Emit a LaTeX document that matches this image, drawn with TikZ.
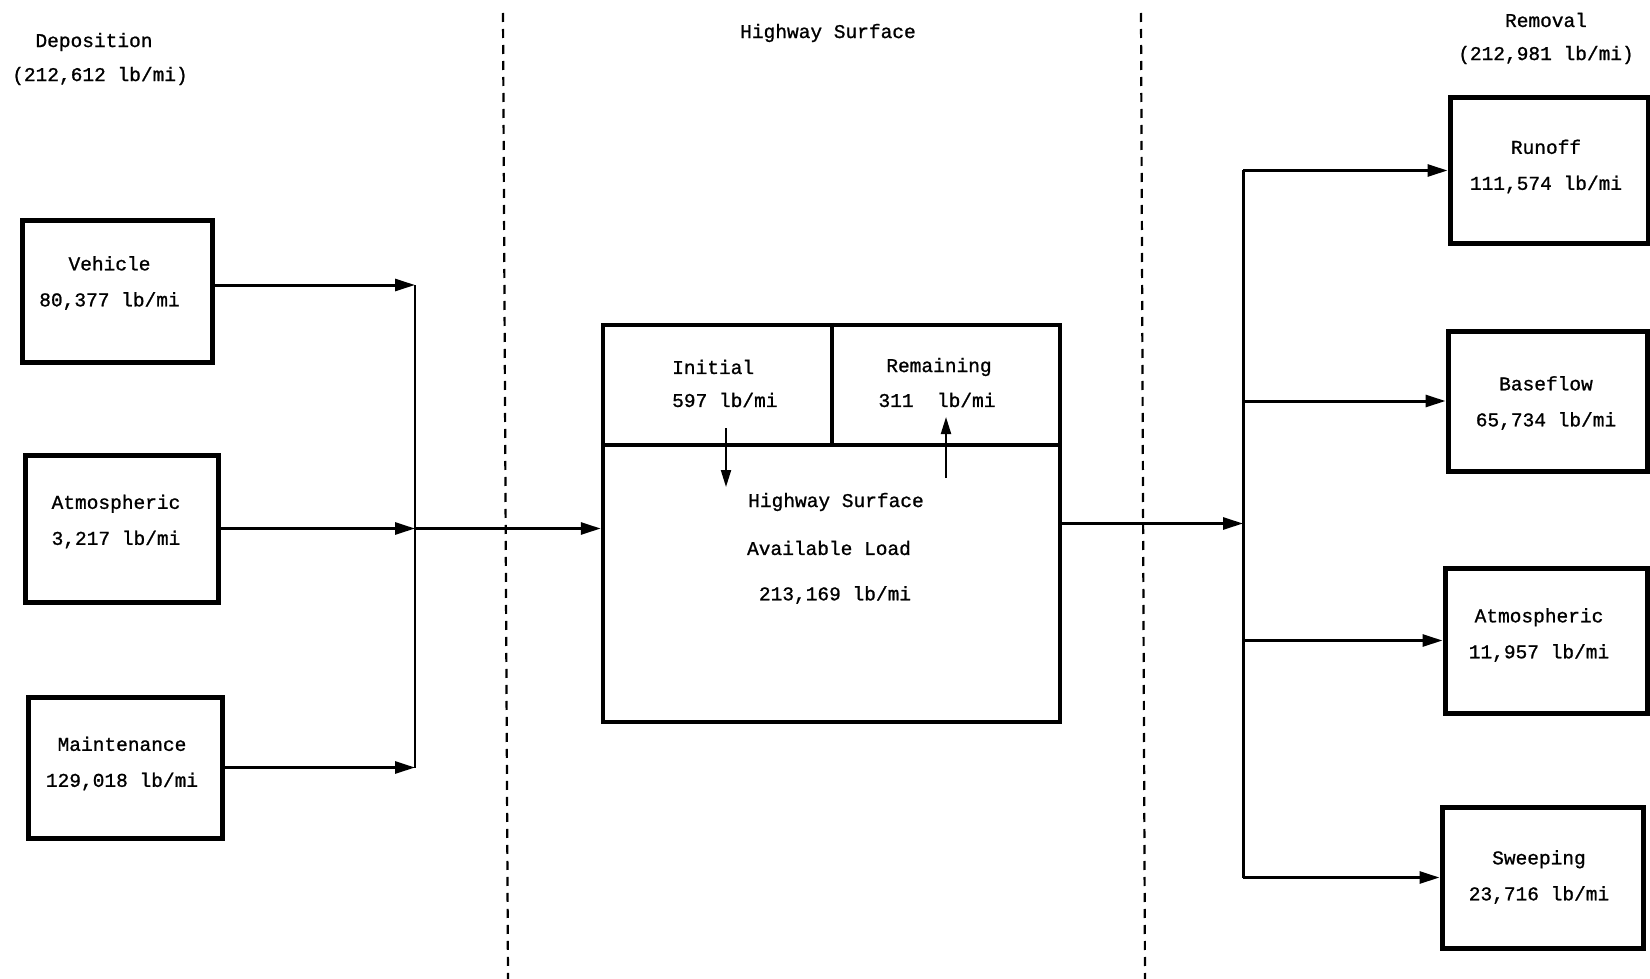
\documentclass[tikz,border=0pt]{standalone}
\usepackage{fontspec}
\usetikzlibrary{arrows.meta}
\newfontfamily\tw{Liberation Mono}[FakeBold=1.0]

\begin{document}
\begin{tikzpicture}[x=1pt,y=-1pt,
  lbl/.style={font=\tw\fontsize{19.5}{36}\selectfont, inner sep=0pt, align=center},
  loadbox/.style={draw, line width=5pt, inner sep=0pt},
  flow/.style={line width=3pt, -{Triangle[length=20pt,width=12pt]}},
  bus/.style={line width=3pt},
  thinbus/.style={line width=2.2pt},
  minor/.style={line width=2pt, -{Triangle[length=17pt,width=10pt]}},
  zone/.style={line width=2.2pt, dash pattern=on 9pt off 7pt}]

\fill[white] (0,0) rectangle (1650,979);
\useasboundingbox (0,0) rectangle (1650,979);

% zone separators
\coordinate (z1a) at (503,13);  \coordinate (z1b) at (508,979);
\coordinate (z2a) at (1141,13); \coordinate (z2b) at (1145,979);
\draw[zone] (z1a) -- (z1b);
\draw[zone] (z2a) -- (z2b);

% headings
\node[lbl] (dep)  at (94,42)   {Deposition};
\node[lbl] (depv) at (100,76)  {(212,612 lb/mi)};
\node[lbl] (hwy)  at (828,33)  {Highway Surface};
\node[lbl] (rmv)  at (1546,20) {Removal};
\node[lbl] (rmvv) at (1546,55) {(212,981 lb/mi)};

% deposition sources
\node[loadbox, minimum width=190pt, minimum height=142pt] (veh) at (117,291)     {};
\node[loadbox, minimum width=193pt, minimum height=147pt] (atl) at (121.5,528.5) {};
\node[loadbox, minimum width=194pt, minimum height=141pt] (mnt) at (125,767.5)   {};
\node[lbl] (vehT) at (109.5,283) {Vehicle\\80,377 lb/mi};
\node[lbl] (atlT) at (116,521.5) {Atmospheric\\3,217 lb/mi};
\node[lbl] (mntT) at (122,763.5) {Maintenance\\129,018 lb/mi};

% highway surface store
\node[draw, line width=4.5pt, minimum width=457pt, minimum height=397pt] (hs) at (831.5,523.5) {};
\coordinate (cell) at (832,445);
\draw[line width=4pt] (hs.west |- cell) -- (hs.east |- cell);
\draw[line width=4pt] (hs.north -| cell) -- (cell);

\node[lbl, anchor=west] (ini)  at (672,367) {Initial};
\node[lbl, anchor=west] (iniv) at (672,400) {597 lb/mi};
\node[lbl] (rem)  at (939,367) {Remaining};
\node[lbl] (remv) at (937,400) {311\ \ lb/mi};

\node[lbl] (hs1) at (836,502) {Highway Surface};
\node[lbl] (hs2) at (829,548) {Available Load};
\node[lbl] (hs3) at (835,595) {213,169 lb/mi};

\coordinate (inA) at (726,428); \coordinate (inB) at (726,487);
\coordinate (rmA) at (946,478); \coordinate (rmB) at (946,417);
\draw[minor] (inA) -- (inB);
\draw[minor] (rmA) -- (rmB);

% removal sinks
\node[loadbox, minimum width=198pt, minimum height=145pt] (run) at (1549,170.5)   {};
\node[loadbox, minimum width=199pt, minimum height=140pt] (bas) at (1547.5,401)   {};
\node[loadbox, minimum width=202pt, minimum height=145pt] (atr) at (1546,640.5)   {};
\node[loadbox, minimum width=201pt, minimum height=141pt] (swp) at (1542.5,877.5) {};
\node[lbl] (runT) at (1546,166.5) {Runoff\\111,574 lb/mi};
\node[lbl] (basT) at (1546,403)   {Baseflow\\65,734 lb/mi};
\node[lbl] (atrT) at (1539,635)   {Atmospheric\\11,957 lb/mi};
\node[lbl] (swpT) at (1539,877)   {Sweeping\\23,716 lb/mi};

% collecting bus on the deposition side
\coordinate (busL) at (415,0);
\coordinate (jv) at (415,285);
\draw[thinbus] (jv) -- (mnt.east -| busL);
\draw[flow] (veh.east |- jv) -- (jv);
\draw[flow] (atl.east) -- (atl.east -| busL);
\draw[flow] (mnt.east) -- (mnt.east -| busL);
\draw[flow] (atl.east -| busL) -- (atl.east -| hs.west);

% distributing bus on the removal side
\coordinate (busR) at (1243,0);
\draw[flow] (hs.east) -- (hs.east -| busR);
\draw[bus]  (run.west -| busR) -- (swp.west -| busR);
\draw[flow] (run.west -| busR) -- (run.west);
\draw[flow] (bas.west -| busR) -- (bas.west);
\draw[flow] (atr.west -| busR) -- (atr.west);
\draw[flow] (swp.west -| busR) -- (swp.west);
\end{tikzpicture}
\end{document}
